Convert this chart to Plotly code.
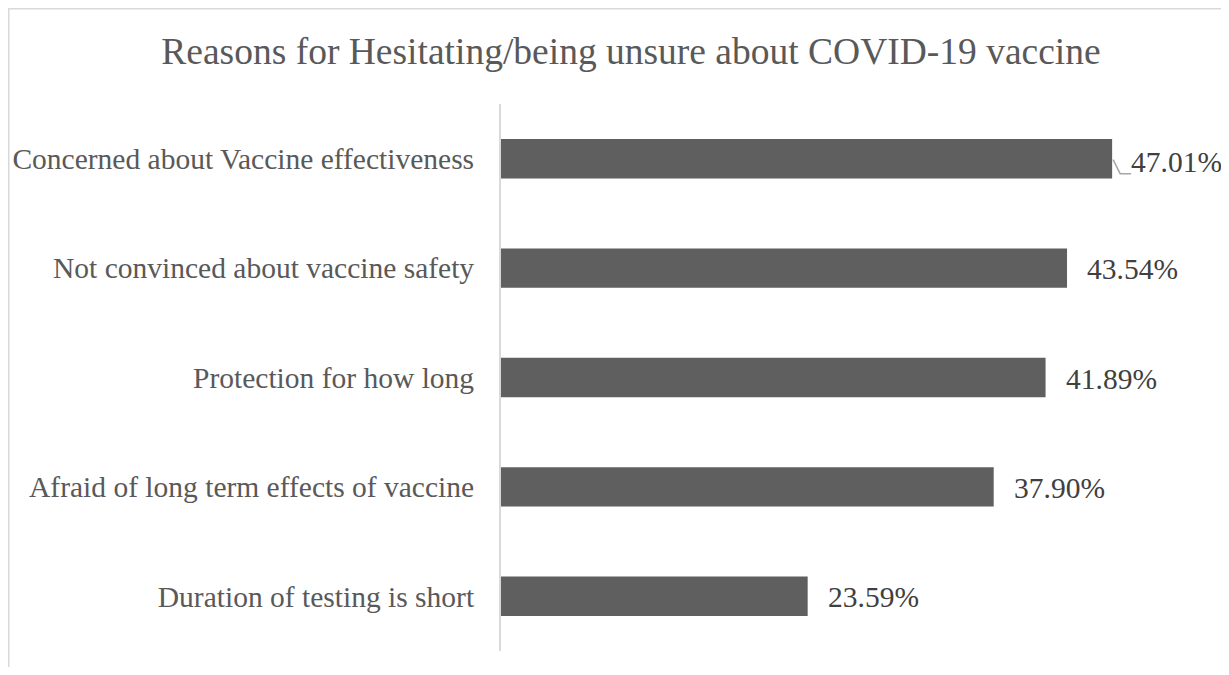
import plotly.graph_objects as go

categories = [
    "Concerned about Vaccine effectiveness",
    "Not convinced about vaccine safety",
    "Protection for how long",
    "Afraid of long term effects of vaccine",
    "Duration of testing is short",
]
values = [47.01, 43.54, 41.89, 37.90, 23.59]
labels = ["47.01%", "43.54%", "41.89%", "37.90%", "23.59%"]
title_text = "Reasons for Hesitating/being unsure about COVID-19 vaccine"

# page body has an 8px margin, so the figure is drawn at (8, 8)
W, H = 1213, 659
L, R, T, B = 493, 71, 96, 16
pw, ph = W - L - R, H - T - B
xmax = pw / 13.0

FONT = "Liberation Serif, Times New Roman, serif"

fig = go.Figure(go.Bar(
    x=values, y=categories, orientation="h",
    marker=dict(color="#5f5f5f", line=dict(width=0)),
    width=0.36, hoverinfo="skip",
))

annotations = []
for i, (c, v, t) in enumerate(zip(categories, values, labels)):
    annotations.append(dict(
        x=v, y=c, xref="x", yref="y", text=t, showarrow=False,
        xanchor="left", yanchor="middle",
        xshift=17 if i == 0 else 18, yshift=-3 if i == 0 else -1,
        font=dict(family=FONT, size=29.5, color="#404040"),
    ))

shapes = [
    # chart border (top/left visible)
    dict(type="rect", xref="paper", yref="paper",
         x0=(0.75 - L) / pw, x1=(W + 20 - L) / pw,
         y0=(H - B - (H + 20)) / ph, y1=(H - B - 0.75) / ph,
         line=dict(color="#d9d9d9", width=1.5), fillcolor="rgba(0,0,0,0)", layer="below"),
    # leader line for first label
    dict(type="path", xref="x", yref="y", xsizemode="pixel", ysizemode="pixel",
         xanchor=values[0], yanchor=categories[0],
         path="M 1 -1 L 8 -15 L 19 -15",
         line=dict(color="#a6a6a6", width=1.5)),
]

fig.update_layout(
    width=W, height=H,
    margin=dict(l=L, r=R, t=T, b=B, autoexpand=False),
    paper_bgcolor="white", plot_bgcolor="white",
    title=dict(text=title_text, x=623 / W, xanchor="center", xref="container",
               y=1 - 43 / H, yanchor="middle", yref="container",
               font=dict(family=FONT, size=37.5, color="#595959")),
    xaxis=dict(range=[0, xmax], visible=False, fixedrange=True, automargin=False),
    yaxis=dict(categoryorder="array", categoryarray=categories[::-1],
               showline=True, linecolor="#d9d9d9", linewidth=2,
               ticks="", ticklabelstandoff=19, automargin=False,
               tickfont=dict(family=FONT, size=29.5, color="#595959"),
               showgrid=False, zeroline=False, fixedrange=True),
    showlegend=False,
    annotations=annotations,
    shapes=shapes,
    bargap=0.64,
)

fig.write_html("out.html")
